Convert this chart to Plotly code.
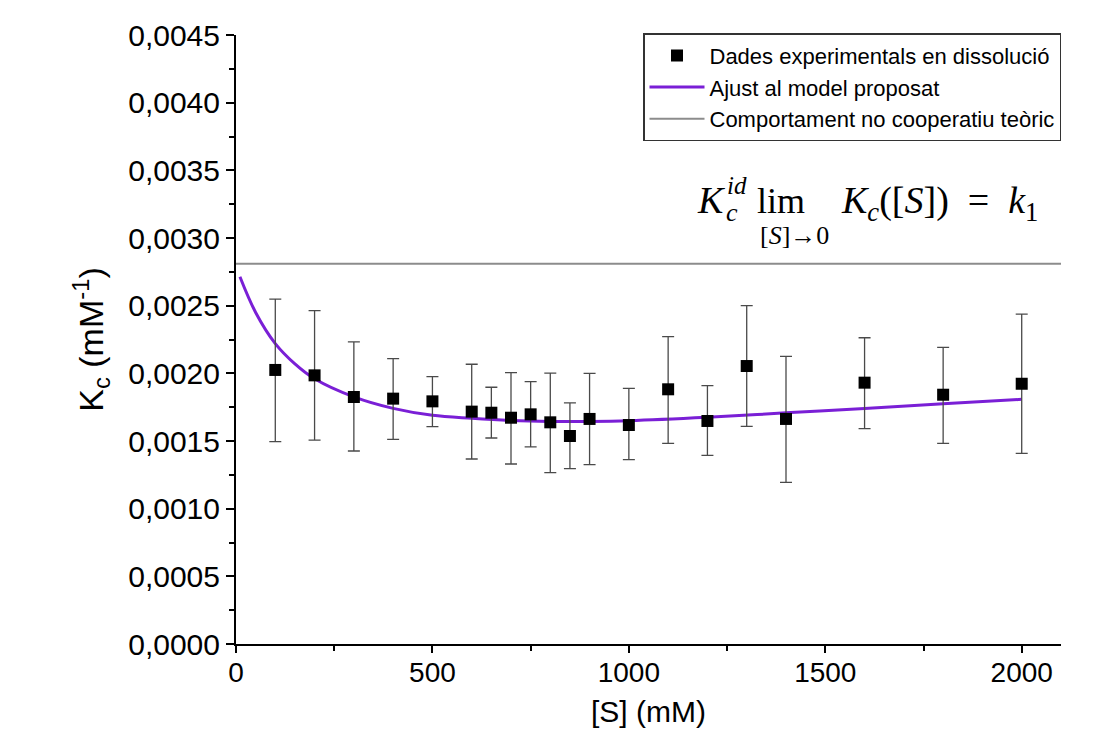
import plotly.graph_objects as go

# ---- data ----
s_exp = [100, 200, 300, 400, 500, 600, 650, 700, 750, 800, 850, 900, 1000,
         1100, 1200, 1300, 1400, 1600, 1800, 2000]
kc_exp = [0.002025, 0.001985, 0.001825, 0.001813, 0.001793, 0.001717, 0.001709,
          0.001672, 0.001697, 0.001638, 0.001537, 0.001663, 0.001618, 0.001882,
          0.001648, 0.002054, 0.001663, 0.001931, 0.001842, 0.001923]
kc_upper = [0.002549, 0.002463, 0.002232, 0.002108, 0.001975, 0.002067, 0.001897,
            0.002005, 0.001938, 0.002002, 0.001781, 0.002000, 0.001889, 0.002271,
            0.001909, 0.002500, 0.002126, 0.002263, 0.002192, 0.002438]
kc_lower = [0.001495, 0.001507, 0.001426, 0.001512, 0.001606, 0.001367, 0.001522,
            0.001330, 0.001456, 0.001266, 0.001296, 0.001325, 0.001362, 0.001483,
            0.001394, 0.001608, 0.001195, 0.001591, 0.001483, 0.001409]

fit_s = [10, 50, 100, 150, 200, 300, 400, 500, 600, 700, 800, 900, 1000,
         1200, 1400, 1600, 1800, 2000]
fit_k = [0.002714, 0.002450, 0.002220, 0.002070, 0.001960, 0.001826, 0.001741,
         0.001690, 0.001668, 0.001652, 0.001645, 0.001645, 0.001650, 0.001675,
         0.001708, 0.001740, 0.001775, 0.001808]

noncoop_k = 0.00281
x_range = [0, 2100]
y_range = [0, 0.0045]

names = ["Dades experimentals en dissolució", "Ajust al model proposat",
         "Comportament no cooperatiu teòric"]

err_plus = [u - k for u, k in zip(kc_upper, kc_exp)]
err_minus = [k - l for k, l in zip(kc_exp, kc_lower)]

fig = go.Figure()
fig.add_trace(go.Scatter(
    x=x_range, y=[noncoop_k, noncoop_k], mode="lines", name=names[2],
    line=dict(color="#8c8c8c", width=2), legendrank=3))
fig.add_trace(go.Scatter(
    x=fit_s, y=fit_k, mode="lines", name=names[1], line_shape="spline",
    line=dict(color="#7a1fd6", width=3, smoothing=1.0), legendrank=2))
fig.add_trace(go.Scatter(
    x=s_exp, y=kc_exp, mode="markers", name=names[0],
    marker=dict(symbol="square", size=12, color="black"),
    error_y=dict(type="data", symmetric=False, array=err_plus, arrayminus=err_minus,
                 color="#4a4a4a", thickness=1.3, width=6),
    legendrank=1))

# plot area in px: x 236..1061, y 35..644
L, R, T, B = 236, 1061, 35, 644
W, H = 1112, 751
def px(xp): return (xp - L) / (R - L)
def py(yp): return (B - yp) / (B - T)

fig.update_layout(
    width=W, height=H,
    margin=dict(l=L, r=W - R, t=T, b=H - B),
    plot_bgcolor="white", paper_bgcolor="white",
    separators=",.",
    font=dict(family="Liberation Sans, Arial", color="black"),
    showlegend=True,
    legend=dict(x=1, y=1.003, xanchor="right", yanchor="top",
                bgcolor="white", bordercolor="#333", borderwidth=1.5,
                font=dict(size=22, family="Liberation Sans, Arial"),
                itemwidth=55, tracegroupgap=0, traceorder="normal"),
)
fig.update_xaxes(
    range=x_range, tickvals=[0, 500, 1000, 1500, 2000],
    showline=True, linecolor="black", linewidth=2,
    ticks="outside", ticklen=7, tickwidth=2, tickcolor="black",
    minor=dict(ticks="outside", ticklen=5, tickwidth=1.5, dtick=250, tick0=0, tickcolor="black"),
    showgrid=False, zeroline=False, ticklabelstandoff=-5,
    tickfont=dict(size=28, family="Liberation Sans, Arial"),
    title=dict(text="[S] (mM)", font=dict(size=30), standoff=14),
)
fig.update_yaxes(
    range=y_range, dtick=0.0005, tickformat=".4f",
    showline=True, linecolor="black", linewidth=2,
    ticks="outside", ticklen=8, tickwidth=2, tickcolor="black",
    minor=dict(ticks="outside", ticklen=5, tickwidth=1.5, dtick=0.00025, tickcolor="black"),
    showgrid=False, zeroline=False,
    tickfont=dict(size=30, family="Liberation Sans, Arial"),
    title=dict(text="K<sub>c</sub> (mM<sup>-1</sup>)", font=dict(size=34), standoff=14),
)

serif = "Liberation Serif, Times New Roman, serif"
ann = [
    dict(text="<i>K</i>", x=px(695), y=py(200), size=38, xanchor="left"),
    dict(text="<i>id</i>", x=px(725), y=py(185), size=25, xanchor="left"),
    dict(text="<i>c</i>", x=px(724), y=py(213), size=26, xanchor="left"),
    dict(text="lim", x=px(781), y=py(201), size=36, xanchor="center"),
    dict(text="<i>K</i><sub><i>c</i></sub>([<i>S</i>])&nbsp;&nbsp;=&nbsp;&nbsp;<i>k</i><sub>1</sub>",
         x=px(839), y=py(203), size=38, xanchor="left"),
    dict(text="[<i>S</i>]→0", x=px(794), y=py(235), size=26, xanchor="center"),
]
for a in ann:
    fig.add_annotation(text=a["text"], x=a["x"], y=a["y"], xref="paper", yref="paper",
                       xanchor=a["xanchor"], yanchor="middle", showarrow=False,
                       font=dict(size=a["size"], family=serif, color="black"))

fig.write_html("out.html")
